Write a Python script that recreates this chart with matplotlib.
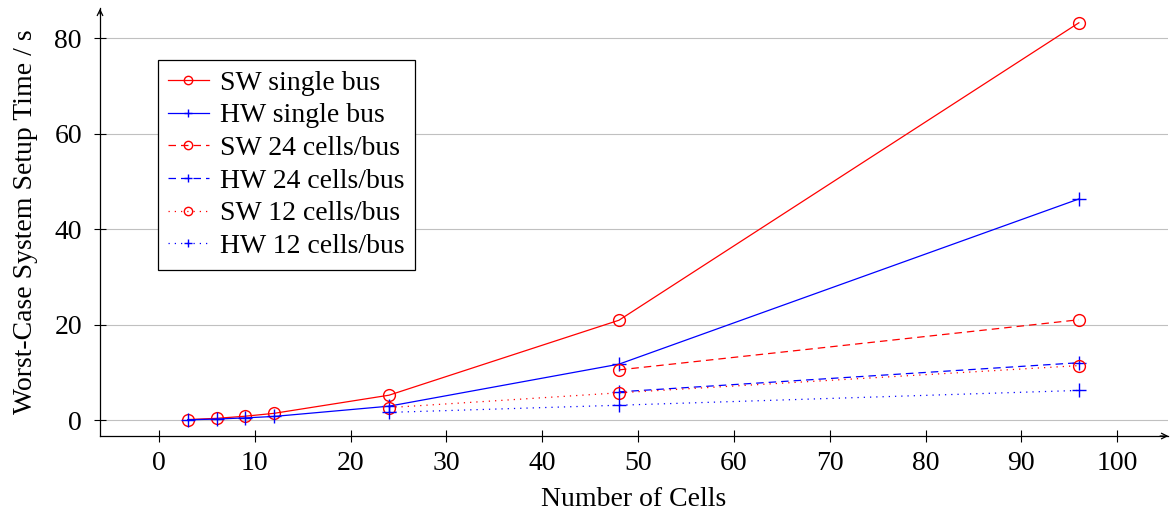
import matplotlib.pyplot as plt

plt.rcParams['font.family'] = ['Liberation Serif', 'DejaVu Serif']

cells_single = [3, 6, 9, 12, 24, 48, 96]
sw_single = [0.1, 0.35, 0.8, 1.4, 5.2, 20.9, 83.2]
hw_single = [0.05, 0.2, 0.45, 0.75, 2.9, 11.7, 46.3]

cells_24 = [48, 96]
sw_24 = [10.5, 21.0]
hw_24 = [5.9, 12.0]

cells_12 = [24, 48, 96]
sw_12 = [2.6, 5.7, 11.4]
hw_12 = [1.6, 3.1, 6.2]

fig = plt.figure(figsize=(11.71, 5.16), dpi=100)
ax = fig.add_axes([0.0854, 0.155, 0.912, 0.8295])

ms = 8.5
lw = 0.9
ax.plot(cells_single, sw_single, color='red', lw=lw, marker='o', mfc='none', ms=ms, label='SW single bus')
ax.plot(cells_single, hw_single, color='blue', lw=lw, marker='+', ms=ms + 1, label='HW single bus')
ax.plot(cells_24, sw_24, color='red', lw=lw, ls=(0, (6, 4)), marker='o', mfc='none', ms=ms, label='SW 24 cells/bus')
ax.plot(cells_24, hw_24, color='blue', lw=lw, ls=(0, (6, 4)), marker='+', ms=ms + 1, label='HW 24 cells/bus')
ax.plot(cells_12, sw_12, color='red', lw=lw, ls=(0, (1, 4)), marker='o', mfc='none', ms=ms, label='SW 12 cells/bus')
ax.plot(cells_12, hw_12, color='blue', lw=lw, ls=(0, (1, 4)), marker='+', ms=ms + 1, label='HW 12 cells/bus')

ax.set_xlim(-6.16, 105.3)
ax.set_ylim(-3.35, 86.3)
ax.set_xticks(range(0, 101, 10))
ax.set_yticks([0, 20, 40, 60, 80])
ax.yaxis.grid(True, color='#c0c0c0', lw=0.8)
ax.set_axisbelow(True)

for s in ['top', 'right']:
    ax.spines[s].set_visible(False)
for s in ['left', 'bottom']:
    ax.spines[s].set_linewidth(0.9)
ax.tick_params(direction='inout', length=8, width=0.8, labelsize=20)
ax.tick_params(axis='x', pad=7)
ax.tick_params(axis='y', pad=9)

ax.annotate('', xy=(1.003, 0), xytext=(0.99, 0), xycoords='axes fraction',
            arrowprops=dict(arrowstyle='->', lw=0.9, color='black'), annotation_clip=False)
ax.annotate('', xy=(0, 1.005), xytext=(0, 0.98), xycoords='axes fraction',
            arrowprops=dict(arrowstyle='->', lw=0.9, color='black'), annotation_clip=False)

ax.set_xlabel('Number of Cells', fontsize=20, labelpad=8)
ax.set_ylabel('Worst-Case System Setup Time / s', fontsize=20, labelpad=12)

leg = ax.legend(loc='upper left', bbox_to_anchor=(0.054, 0.879), borderaxespad=0,
                fontsize=20, fancybox=False, edgecolor='black', framealpha=1,
                handlelength=1.45, labelspacing=0.26, borderpad=0.38, handletextpad=0.4)
leg.get_frame().set_linewidth(0.9)
for h in leg.legend_handles:
    h.set_markersize(6)

fig.savefig('out.png', dpi=100)
